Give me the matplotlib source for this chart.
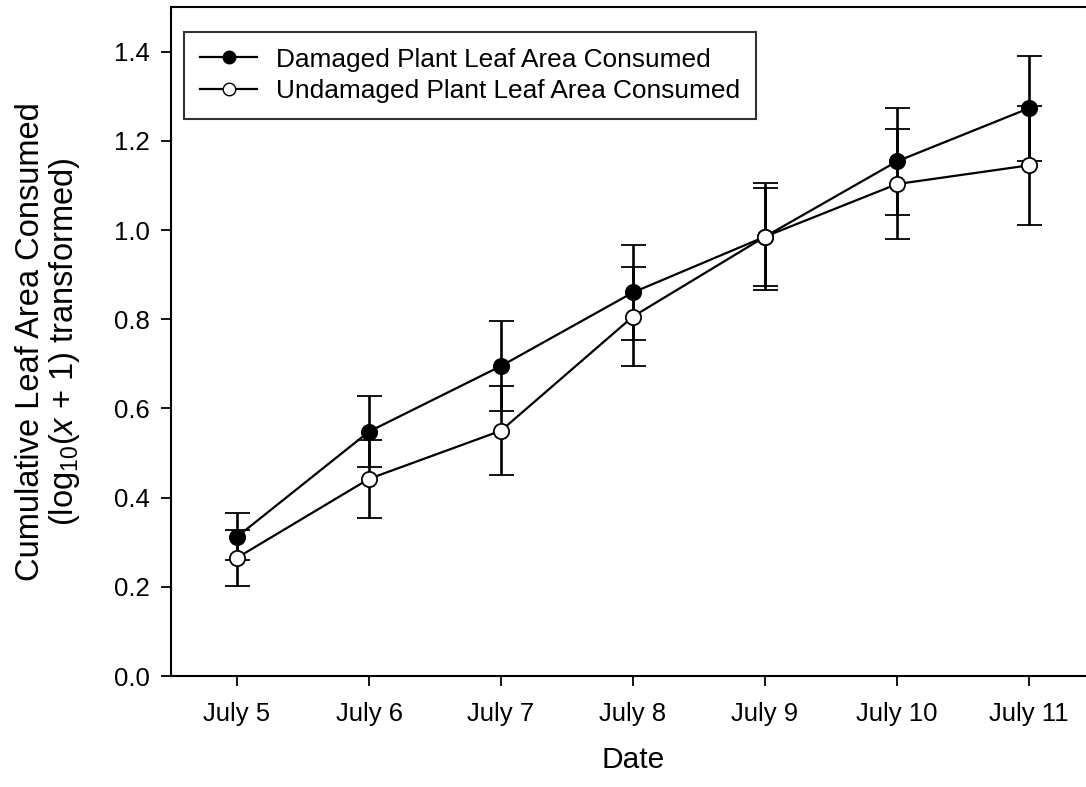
import matplotlib
matplotlib.use("Agg")
import matplotlib.pyplot as plt
from matplotlib.lines import Line2D

plt.rcParams['font.family'] = ['Liberation Sans', 'DejaVu Sans']
plt.rcParams['mathtext.fontset'] = 'custom'
plt.rcParams['mathtext.rm'] = 'Liberation Sans'
plt.rcParams['mathtext.it'] = 'Liberation Sans:italic'

# data
dates = ['July 5', 'July 6', 'July 7', 'July 8', 'July 9', 'July 10', 'July 11']
damaged = [0.312, 0.548, 0.695, 0.860, 0.985, 1.154, 1.273]
damaged_err = [0.053, 0.080, 0.100, 0.107, 0.110, 0.120, 0.118]
undamaged = [0.265, 0.442, 0.550, 0.806, 0.985, 1.103, 1.145]
undamaged_err = [0.063, 0.087, 0.100, 0.112, 0.120, 0.124, 0.134]
labels = ['Damaged Plant Leaf Area Consumed', 'Undamaged Plant Leaf Area Consumed']

W, H = 1086, 787
fig = plt.figure(figsize=(W / 100, H / 100), dpi=100)
# axes runs a little past the right edge, like the cropped original
ax = fig.add_axes([171 / W, (H - 676) / H, (1095 - 171) / W, (676 - 7) / H])

x = list(range(len(dates)))

ax.errorbar(x, damaged, yerr=damaged_err, color='black', lw=1.6,
            marker='o', ms=11, mfc='black', mec='black', mew=1.3,
            elinewidth=1.9, capsize=9, capthick=1.9, zorder=3)
ax.errorbar(x, undamaged, yerr=undamaged_err, color='black', lw=1.6,
            marker='o', ms=11, mfc='white', mec='black', mew=1.3,
            elinewidth=1.9, capsize=9, capthick=1.9, zorder=4)

ax.set_xlim(-0.5, 6.5)
ax.set_ylim(0, 1.5)
ax.set_xticks(x)
ax.set_xticklabels(dates)
ax.set_yticks([0.0, 0.2, 0.4, 0.6, 0.8, 1.0, 1.2, 1.4])
ax.set_yticklabels(['0.0', '0.2', '0.4', '0.6', '0.8', '1.0', '1.2', '1.4'])
ax.tick_params(axis='both', direction='out', length=7, width=1.3, labelsize=18.5)
ax.tick_params(axis='x', pad=12)
ax.tick_params(axis='y', pad=8)

for s in ax.spines.values():
    s.set_linewidth(1.5)
ax.spines['right'].set_visible(False)

ax.set_xlabel('Date', fontsize=21.5, labelpad=14)
ax.set_ylabel('Cumulative Leaf Area Consumed\n(log$_{10}$($x$ + 1) transformed)',
              fontsize=23.5, labelpad=23, linespacing=1.05)

handles = [
    Line2D([], [], color='black', lw=1.6, marker='o', ms=9, mfc='black', mec='black'),
    Line2D([], [], color='black', lw=1.6, marker='o', ms=9, mfc='white', mec='black'),
]
leg = ax.legend(handles, labels, loc='upper left', bbox_to_anchor=(0.014, 0.963),
                borderaxespad=0, fontsize=18.9, frameon=True, fancybox=False,
                edgecolor='black', handlelength=2.2, handletextpad=0.7,
                borderpad=0.6, labelspacing=0.3)
leg.get_frame().set_linewidth(1.5)

fig.savefig('out.png', dpi=100)
